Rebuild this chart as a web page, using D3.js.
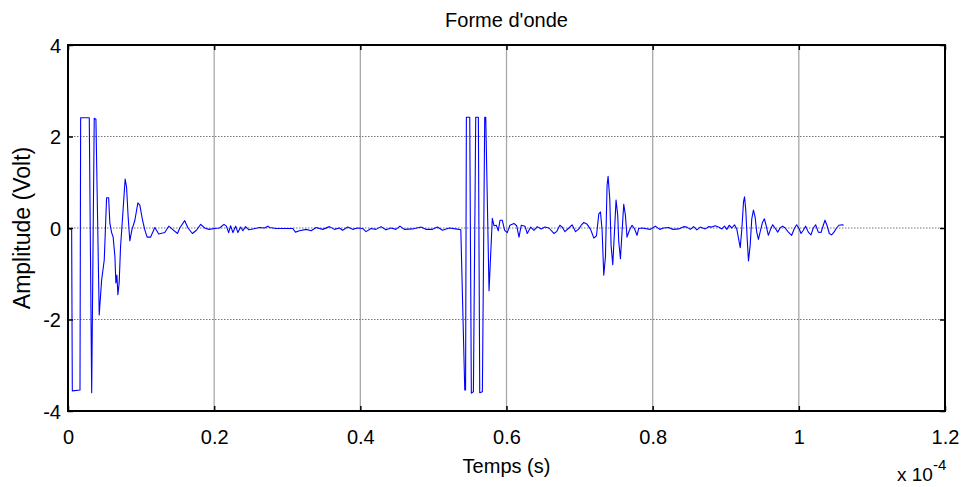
<!DOCTYPE html>
<html>
<head>
<meta charset="utf-8">
<script src="https://cdn.jsdelivr.net/npm/d3@7"></script>
<style>
  html, body { margin: 0; padding: 0; background: #fff; }
  svg { display: block; }
  text { font-family: Arial, "Liberation Sans", sans-serif; fill: #000; }
</style>
</head>
<body>
<svg id="chart" width="963" height="487"></svg>
<script>
// Time axis in units of 1e-4 s, amplitude in volts.
const timeE4 = [
  0.0000, 0.0050, 0.0059, 0.0164, 0.0173, 0.0291, 0.0324, 0.0359, 0.0382, 0.0427,
  0.0460, 0.0496, 0.0528, 0.0556, 0.0573, 0.0597, 0.0618, 0.0642, 0.0655, 0.0669,
  0.0683, 0.0700, 0.0719, 0.0747, 0.0782, 0.0801, 0.0823, 0.0846, 0.0874, 0.0915,
  0.0956, 0.0983, 0.1020, 0.1051, 0.1083, 0.1129, 0.1188, 0.1242, 0.1324, 0.1379,
  0.1438, 0.1498, 0.1529, 0.1597, 0.1642, 0.1702, 0.1757, 0.1816, 0.1870, 0.1929,
  0.2007, 0.2075, 0.2134, 0.2167, 0.2198, 0.2225, 0.2257, 0.2294, 0.2325, 0.2362,
  0.2393, 0.2430, 0.2475, 0.2530, 0.2621, 0.2689, 0.2735, 0.2758, 0.2849, 0.3076,
  0.3113, 0.3167, 0.3259, 0.3327, 0.3395, 0.3485, 0.3577, 0.3645, 0.3713, 0.3758,
  0.3827, 0.3895, 0.3963, 0.4031, 0.4078, 0.4146, 0.4214, 0.4283, 0.4351, 0.4419,
  0.4487, 0.4542, 0.4601, 0.4714, 0.4829, 0.4897, 0.4987, 0.5055, 0.5124, 0.5215,
  0.5307, 0.5375, 0.5429, 0.5440, 0.5451, 0.5497, 0.5519, 0.5547, 0.5579, 0.5615,
  0.5634, 0.5670, 0.5702, 0.5716, 0.5761, 0.5806, 0.5829, 0.5860, 0.5888, 0.5911,
  0.5942, 0.5975, 0.6010, 0.6047, 0.6102, 0.6139, 0.6171, 0.6202, 0.6253, 0.6284,
  0.6331, 0.6376, 0.6421, 0.6475, 0.6526, 0.6580, 0.6649, 0.6685, 0.6730, 0.6762,
  0.6799, 0.6853, 0.6898, 0.6945, 0.6990, 0.7027, 0.7058, 0.7104, 0.7150, 0.7172,
  0.7195, 0.7231, 0.7263, 0.7286, 0.7308, 0.7331, 0.7354, 0.7376, 0.7390, 0.7413,
  0.7431, 0.7454, 0.7477, 0.7499, 0.7522, 0.7536, 0.7559, 0.7581, 0.7604, 0.7627,
  0.7649, 0.7682, 0.7718, 0.7750, 0.7786, 0.7809, 0.7854, 0.7969, 0.8037, 0.8096,
  0.8150, 0.8218, 0.8277, 0.8355, 0.8423, 0.8468, 0.8515, 0.8560, 0.8605, 0.8651,
  0.8720, 0.8765, 0.8810, 0.8856, 0.8901, 0.8946, 0.8983, 0.9015, 0.9047, 0.9083,
  0.9120, 0.9152, 0.9175, 0.9198, 0.9220, 0.9243, 0.9257, 0.9274, 0.9293, 0.9311,
  0.9334, 0.9356, 0.9379, 0.9402, 0.9424, 0.9447, 0.9470, 0.9502, 0.9529, 0.9552,
  0.9583, 0.9615, 0.9642, 0.9675, 0.9711, 0.9743, 0.9779, 0.9812, 0.9857, 0.9902,
  0.9939, 0.9970, 1.0003, 1.0030, 1.0061, 1.0093, 1.0130, 1.0166, 1.0198, 1.0230,
  1.0266, 1.0303, 1.0335, 1.0358, 1.0385, 1.0417, 1.0448, 1.0481, 1.0516, 1.0549,
  1.0594, 1.0614
];
const amplitude = [
   0.00, -0.04, -3.56, -3.54,  2.41,  2.41, -3.60,  2.40,  2.38, -1.90,
  -1.14, -0.70,  0.66,  0.66,  0.10, -0.10, -0.20, -0.63, -1.20, -1.03,
  -1.46, -1.20, -0.41,  0.24,  1.07,  0.90,  0.24, -0.28, -0.04,  0.17,
   0.55,  0.50,  0.17, -0.04, -0.20, -0.20,  0.01, -0.13, -0.10,  0.04,
  -0.04, -0.12,  0.00,  0.16,  0.00, -0.12, -0.05,  0.08,  0.00, -0.03,
  -0.01,  0.00,  0.08,  0.04, -0.10,  0.05, -0.10,  0.04, -0.10,  0.02,
  -0.06,  0.03, -0.04, -0.02,  0.01,  0.00,  0.04,  0.01, -0.01, -0.01,
  -0.09, -0.06, -0.03, -0.06,  0.01, -0.03,  0.03, -0.03,  0.00, -0.05,
   0.02, -0.03,  0.00, -0.01, -0.08, -0.01, -0.03,  0.03, -0.04,  0.00,
  -0.03,  0.04, -0.03, -0.02,  0.02, -0.03, -0.03,  0.02, -0.05,  0.00,
  -0.02, -0.04, -3.54, -3.54,  2.42,  2.42, -3.61, -3.58,  2.42,  2.42,
  -3.60, -3.58,  2.42,  2.42, -1.37,  0.21,  0.05,  0.06, -0.06,  0.17,
   0.17, -0.05, -0.10,  0.06,  0.10,  0.05, -0.20,  0.06,  0.04, -0.12,
   0.02, -0.05,  0.03, -0.02,  0.02,  0.00, -0.12, -0.08,  0.06,  0.02,
  -0.08,  0.00,  0.07, -0.08, -0.02,  0.07,  0.12,  0.08, -0.03, -0.12,
  -0.22, -0.17,  0.31,  0.35, -0.05, -1.03, -0.63,  0.93,  1.13,  0.64,
  -0.38, -0.80, -0.09,  0.61,  0.28, -0.30, -0.67, -0.09,  0.52,  0.28,
  -0.20, -0.05,  0.06, -0.01, -0.16, -0.01,  0.00, -0.03,  0.04, -0.03,
   0.00,  0.01, -0.03, -0.02,  0.03,  0.02, -0.03,  0.03, -0.04,  0.02,
  -0.02,  0.03,  0.02,  0.05,  0.02, -0.02,  0.04, -0.03,  0.06,  0.00,
   0.07, -0.03, -0.23, -0.43, -0.02,  0.57,  0.68,  0.39, -0.23, -0.72,
  -0.38,  0.20,  0.39,  0.24, -0.09, -0.25, -0.09,  0.12,  0.20,  0.06,
  -0.16, -0.02,  0.07,  0.00, -0.09,  0.00,  0.04,  0.00, -0.09, -0.16,
  -0.01,  0.07, -0.01, -0.12, -0.05,  0.04, -0.09, -0.15,  0.00,  0.07,
  -0.09, -0.10,  0.06,  0.17,  0.06, -0.12, -0.15, -0.09,  0.00,  0.06,
   0.07,  0.06
];
const xTicks = [0, 0.2, 0.4, 0.6, 0.8, 1.0, 1.2];
const xTickLabels = ["0", "0.2", "0.4", "0.6", "0.8", "1", "1.2"];
const yTicks = [-4, -2, 0, 2, 4];
const yTickLabels = ["-4", "-2", "0", "2", "4"];

(function draw() {
  const points = timeE4.map((t, i) => ({ t, v: amplitude[i] }));

  const svg = d3.select("#chart");
  const mLeft = 68, mRight = 945, mTop = 45, mBottom = 411;

  const x = d3.scaleLinear().domain([0, 1.2]).range([mLeft, mRight]);
  const y = d3.scaleLinear().domain([-4, 4]).range([mBottom, mTop]);

  // Grid: vertical lines solid light grey, horizontal lines dotted
  const grid = svg.append("g");
  grid.selectAll("line.gx").data(xTicks.slice(1, -1)).join("line")
    .attr("class", "gx")
    .attr("x1", d => x(d)).attr("x2", d => x(d))
    .attr("y1", mTop).attr("y2", mBottom)
    .attr("stroke", "#a8a8a8").attr("stroke-width", 1.3);
  grid.selectAll("line.gy").data(yTicks.slice(1, -1)).join("line")
    .attr("class", "gy")
    .attr("x1", mLeft).attr("x2", mRight)
    .attr("y1", d => y(d)).attr("y2", d => y(d))
    .attr("stroke", "#777").attr("stroke-width", 1.2)
    .attr("stroke-dasharray", "1.5,1.5");

  // Waveform
  const line = d3.line().x(d => x(d.t)).y(d => y(d.v));
  svg.append("path").datum(points)
    .attr("d", line)
    .attr("fill", "none")
    .attr("stroke", "#0000ff")
    .attr("stroke-width", 1.1)
    .attr("stroke-linejoin", "round");

  // Axes with inward ticks on all four sides
  const tickLen = 5;
  const axB = svg.append("g").attr("transform", `translate(0,${mBottom})`)
    .call(d3.axisBottom(x).tickValues(xTicks).tickSizeInner(-tickLen).tickSizeOuter(0)
      .tickFormat((d, i) => xTickLabels[i]));
  const axT = svg.append("g").attr("transform", `translate(0,${mTop})`)
    .call(d3.axisTop(x).tickValues(xTicks).tickSizeInner(-tickLen).tickSizeOuter(0)
      .tickFormat(""));
  const axL = svg.append("g").attr("transform", `translate(${mLeft},0)`)
    .call(d3.axisLeft(y).tickValues(yTicks).tickSizeInner(-tickLen).tickSizeOuter(0)
      .tickFormat((d, i) => yTickLabels[i]));
  const axR = svg.append("g").attr("transform", `translate(${mRight},0)`)
    .call(d3.axisRight(y).tickValues(yTicks).tickSizeInner(-tickLen).tickSizeOuter(0)
      .tickFormat(""));

  [axB, axT, axL, axR].forEach(a => {
    a.select(".domain").remove();
    a.selectAll(".tick line").attr("stroke", "#000").attr("stroke-width", 1.5);
    a.selectAll("text").attr("font-family", "Arial, 'Liberation Sans', sans-serif")
      .attr("font-size", 20).attr("fill", "#000");
  });
  axB.selectAll(".tick text").attr("dy", null).attr("y", 33);
  axL.selectAll(".tick text").attr("x", -7).attr("dy", "0.36em");

  // Frame
  svg.append("rect")
    .attr("x", mLeft).attr("y", mTop)
    .attr("width", mRight - mLeft).attr("height", mBottom - mTop)
    .attr("fill", "none").attr("stroke", "#000").attr("stroke-width", 2);

  // Title and labels
  svg.append("text").attr("x", (mLeft + mRight) / 2).attr("y", 27)
    .attr("text-anchor", "middle").attr("font-size", 20).text("Forme d'onde");
  svg.append("text").attr("x", (mLeft + mRight) / 2).attr("y", 473)
    .attr("text-anchor", "middle").attr("font-size", 20).text("Temps (s)");
  svg.append("text")
    .attr("transform", `translate(30,${(mTop + mBottom) / 2}) rotate(-90)`)
    .attr("text-anchor", "middle").attr("font-size", 23).text("Amplitude (Volt)");

  // Exponent of the time axis
  const expo = svg.append("text").attr("x", 897).attr("y", 481).attr("font-size", 19);
  expo.append("tspan").text("x 10");
  expo.append("tspan").attr("dy", -11).attr("font-size", 15).text("-4");
})();
</script>
</body>
</html>
